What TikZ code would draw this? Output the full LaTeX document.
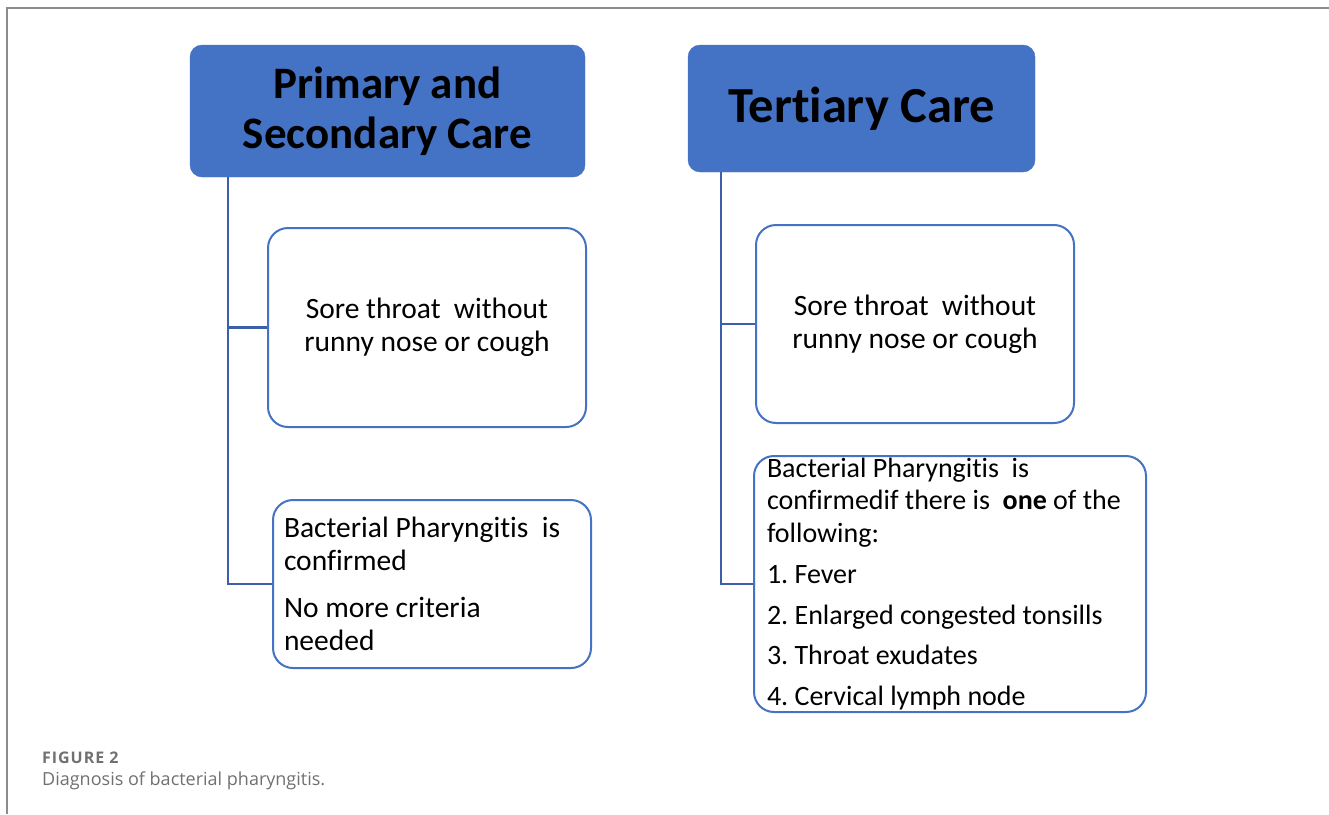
\documentclass[tikz,border=0pt]{standalone}
\usepackage{fontspec}
\setmainfont[Ligatures={NoCommon}]{Carlito}
\newfontfamily\capfont{Open Sans}
\newfontfamily\capfontsemi[LetterSpace=6]{Open Sans}
\definecolor{officeblue}{HTML}{4472C4}
\definecolor{linkblue}{HTML}{3B5FA8}
\definecolor{framegray}{HTML}{8C8C8C}
\definecolor{capgray}{HTML}{707070}
\tikzset{
  headbox/.style={fill=officeblue, draw=officeblue, rounded corners=12pt, font=\bfseries, align=center, inner sep=0pt},
  whitebox/.style={draw=officeblue, line width=2pt, rounded corners=20pt, fill=white, inner sep=0pt, font=\frenchspacing\fontsize{29.5}{33}\selectfont},
  link/.style={draw=linkblue, line width=2.5pt},
  frameline/.style={draw=framegray, line width=1.4pt}
}
\begin{document}
\begin{tikzpicture}[x=1pt,y=-1pt]
\useasboundingbox (0,0) rectangle (1329,814);
\draw[frameline] (7,814) -- (7,8) -- (1329,8);

% headings
\node[headbox, minimum width=395pt, minimum height=132pt, font=\bfseries\fontsize{45}{50}\selectfont] (h1) at (387.5,111) {Primary and\\Secondary Care};
\node[headbox, minimum width=347pt, minimum height=127pt, font=\bfseries\fontsize{50.5}{55}\selectfont] (h2) at (861.5,108.5) {Tertiary Care};

% left column
\node[whitebox, minimum width=318pt, minimum height=199pt, align=center] (L1) at (427,327.5) {Sore throat\ \ without\\runny nose or cough};
\node[whitebox, minimum width=318pt, minimum height=168pt, text width=296pt, align=flush left] (L2) at (432,584) {Bacterial Pharyngitis\ \ is\\confirmed\\[14pt]No more criteria\\needed};

% right column
\node[whitebox, minimum width=318pt, minimum height=198pt, align=center] (R1) at (915,324) {Sore throat\ \ without\\runny nose or cough};
\node[whitebox, minimum width=392pt, minimum height=256pt, text width=366pt, align=flush left, font=\frenchspacing\fontsize{28}{32.5}\selectfont] (R2) at (950,584) {Bacterial Pharyngitis\ \ is\\confirmedif there is\ \ \textbf{one} of the\\following:\\[9pt]1. Fever\\[8pt]2. Enlarged congested tonsills\\[8pt]3. Throat exudates\\[8pt]4. Cervical lymph node};

% connectors
\coordinate (lspine) at (228,584);
\coordinate (rspine) at (721,584);
\draw[link] (h1.south -| lspine) |- (L2.west);
\draw[link] (L1.west -| lspine) -- (L1.west);
\draw[link] (h2.south -| rspine) |- (R2.west);
\draw[link] (R1.west -| rspine) -- (R1.west);

% caption
\node[anchor=base west, inner sep=0pt, text=capgray, font=\capfontsemi\bfseries\fontsize{16}{18}\selectfont] (figlabel) at (42,763) {FIGURE 2};
\node[anchor=base west, inner sep=0pt, text=capgray, font=\capfont\fontsize{18}{22}\selectfont] (figcap) at (42,785) {Diagnosis of bacterial pharyngitis.};
\end{tikzpicture}
\end{document}
